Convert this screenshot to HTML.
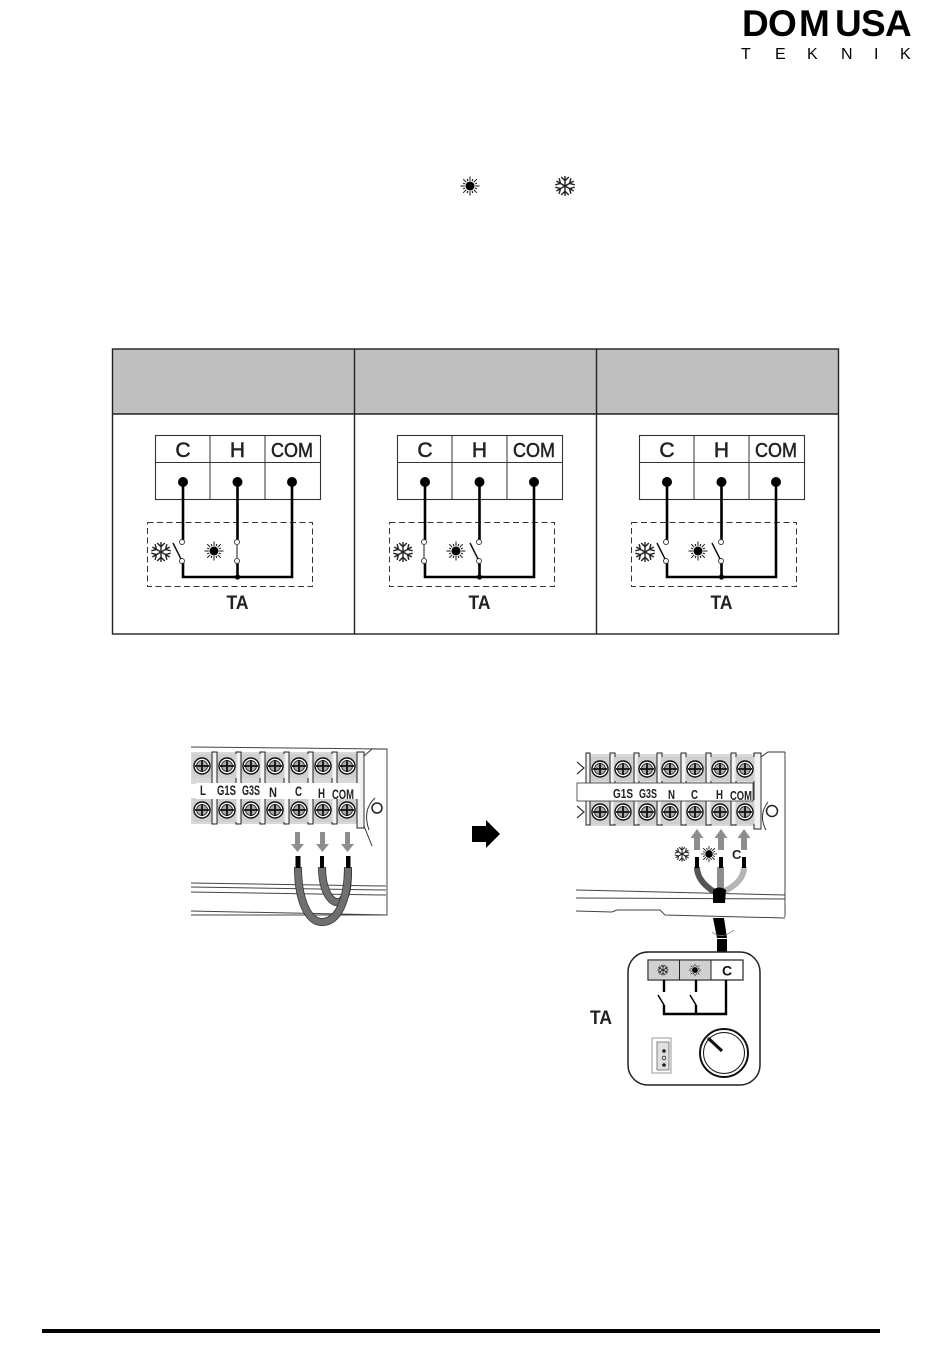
<!DOCTYPE html>
<html><head><meta charset="utf-8"><style>
html,body{margin:0;padding:0;background:#fff}
svg{display:block}
text{font-family:"Liberation Sans",sans-serif}
</style></head><body>
<svg width="950" height="1370" viewBox="0 0 950 1370" xmlns="http://www.w3.org/2000/svg">
<defs>
<g id="sun">
<g stroke="#111" stroke-width="1"><line x1="-9.500" y1="0" x2="9.500" y2="0"/><line x1="0" y1="-9.500" x2="0" y2="9.500"/><line x1="-6.800" y1="-6.800" x2="6.800" y2="6.800"/><line x1="-6.800" y1="6.800" x2="6.800" y2="-6.800"/><line x1="-7" y1="-2.900" x2="7" y2="2.900"/><line x1="-7" y1="2.900" x2="7" y2="-2.900"/><line x1="-2.900" y1="-7" x2="2.900" y2="7"/><line x1="2.900" y1="-7" x2="-2.900" y2="7"/></g>
<circle r="5.300" fill="#fff"/><circle r="4.500" fill="#000"/>
</g>
<g id="arm"><path d="M0 0V-10M-3.800 -9L0 -5.200L3.800 -9"/></g>
<g id="snow" fill="none" stroke="#222" stroke-width="1.400">
<use href="#arm"/><use href="#arm" transform="rotate(60)"/><use href="#arm" transform="rotate(120)"/><use href="#arm" transform="rotate(180)"/><use href="#arm" transform="rotate(240)"/><use href="#arm" transform="rotate(300)"/>
</g>
<g id="term">
<rect x="0.500" y="0.500" width="165" height="64" fill="#fff" stroke="#333" stroke-width="1.100"/>
<line x1="0" y1="27.500" x2="165" y2="27.500" stroke="#333" stroke-width="1"/>
<line x1="55" y1="0" x2="55" y2="64" stroke="#333" stroke-width="1"/>
<line x1="110" y1="0" x2="110" y2="64" stroke="#333" stroke-width="1"/>
<g fill="#222" stroke="#222" stroke-width="0.500">
<text x="28" y="22" text-anchor="middle" font-size="21">C</text>
<text x="82.500" y="22" text-anchor="middle" font-size="21">H</text>
<text x="116" y="22" font-size="20" textLength="42" lengthAdjust="spacingAndGlyphs">COM</text>
</g>
<circle cx="28" cy="47" r="5" fill="#000"/><circle cx="82.500" cy="47" r="5" fill="#000"/><circle cx="137" cy="47" r="5" fill="#000"/>
<rect x="-7.500" y="87.500" width="165" height="64" fill="none" stroke="#333" stroke-width="1" stroke-dasharray="6 3.500"/>
<path d="M137 47V142H28V125" fill="none" stroke="#000" stroke-width="2.600"/>
<path d="M28 47V107M82.500 47V107M82.500 125V142" fill="none" stroke="#000" stroke-width="2.600"/>
<circle cx="82.500" cy="142" r="2.600" fill="#000"/>
<text x="82.500" y="174" text-anchor="middle" font-size="19" font-weight="bold" fill="#222" textLength="22" lengthAdjust="spacingAndGlyphs">TA</text>
</g>
<g id="screw">
<rect x="-9.500" y="-12" width="19" height="24" fill="#cfcfcf"/>
<circle r="8" fill="#fff" stroke="#111" stroke-width="1.400"/>
<circle r="5.500" fill="#aaa" stroke="#111" stroke-width="0.800"/>
<path d="M-7 0H7M0 -6V6" stroke="#111" stroke-width="1.800"/>
</g>
</defs>

<!-- Logo -->
<text x="742 768 799 835 861 885" y="36" font-size="37" font-weight="bold" fill="#000">DOMUSA</text>
<text x="741 775 807 841 874 900" y="59" font-size="16" fill="#000">TEKNIK</text>

<!-- Inline icons -->
<use href="#sun" x="470" y="186"/>
<use href="#snow" x="565" y="186"/>

<!-- Table -->
<rect x="112.500" y="349" width="726" height="65" fill="#bfbfbf"/>
<rect x="112.500" y="349" width="726" height="285" fill="none" stroke="#222" stroke-width="1.400"/>
<line x1="112" y1="414" x2="838" y2="414" stroke="#222" stroke-width="1.400"/>
<line x1="354.500" y1="349" x2="354.500" y2="634" stroke="#222" stroke-width="1.400"/>
<line x1="596.500" y1="349" x2="596.500" y2="634" stroke="#222" stroke-width="1.400"/>

<use href="#term" x="155" y="435"/>
<use href="#term" x="397" y="435"/>
<use href="#term" x="639" y="435"/>

<!-- Switches -->
<g fill="#fff" stroke="#333" stroke-width="0.900">
<g id="sw1"><circle cx="182" cy="542" r="2.500"/><circle cx="182" cy="561" r="2.500"/><circle cx="237" cy="542" r="2.500"/><circle cx="237" cy="561" r="2.500"/></g>
<use href="#sw1" x="242"/><use href="#sw1" x="484"/>
</g>
<g stroke="#111" stroke-width="1.500" fill="none">
<line x1="173" y1="543" x2="181" y2="559"/>
<line x1="237" y1="544" x2="237" y2="559" stroke="#666"/>
<line x1="424" y1="544" x2="424" y2="559" stroke="#666"/>
<line x1="470" y1="543" x2="478" y2="559"/>
<line x1="657" y1="543" x2="665" y2="559"/>
<line x1="712" y1="543" x2="720" y2="559"/>
</g>
<use href="#snow" x="161" y="552"/><use href="#sun" x="214" y="551"/>
<use href="#snow" x="403" y="552"/><use href="#sun" x="456" y="551"/>
<use href="#snow" x="645" y="552"/><use href="#sun" x="698" y="551"/>

<!-- Left photo: terminal block -->
<g>
<path d="M191 747L387 749V915H191" fill="none" stroke="#444" stroke-width="1"/>
<rect x="191" y="752" width="172" height="72" fill="#d8d8d8"/>
<rect x="191" y="784" width="172" height="14" fill="#fff"/>
<g stroke="#222" stroke-width="1" fill="#f2f2f2">
<rect x="212" y="752" width="5" height="72"/><rect x="236" y="752" width="5" height="72"/><rect x="260" y="752" width="5" height="72"/><rect x="284" y="752" width="5" height="72"/><rect x="308" y="752" width="5" height="72"/><rect x="332" y="752" width="5" height="72"/><rect x="357" y="752" width="7" height="76"/>
</g>
<use href="#screw" x="202" y="766"/><use href="#screw" x="227" y="766"/><use href="#screw" x="251" y="766"/><use href="#screw" x="275" y="766"/><use href="#screw" x="299" y="766"/><use href="#screw" x="323" y="766"/><use href="#screw" x="347" y="766"/>
<use href="#screw" x="202" y="810"/><use href="#screw" x="227" y="810"/><use href="#screw" x="251" y="810"/><use href="#screw" x="275" y="810"/><use href="#screw" x="299" y="810"/><use href="#screw" x="323" y="810"/><use href="#screw" x="347" y="810"/>
<rect x="196" y="783" width="164" height="16" fill="#fff"/>
<g font-size="14" font-weight="bold" fill="#222">
<text x="200" y="795" textLength="6" lengthAdjust="spacingAndGlyphs">L</text>
<text x="217" y="795" textLength="19" lengthAdjust="spacingAndGlyphs">G1S</text>
<text x="242" y="795" textLength="18" lengthAdjust="spacingAndGlyphs">G3S</text>
<text x="269" y="797" textLength="8" lengthAdjust="spacingAndGlyphs">N</text>
<text x="295" y="796" textLength="7" lengthAdjust="spacingAndGlyphs">C</text>
<text x="318" y="798" textLength="7" lengthAdjust="spacingAndGlyphs">H</text>
<text x="332" y="799" textLength="22" lengthAdjust="spacingAndGlyphs">COM</text>
</g>
<path d="M364 756L372 749H386M364 756V826M364 826L372 846" fill="none" stroke="#333" stroke-width="1"/>
<path d="M369 830Q362 810 375 798" fill="none" stroke="#333" stroke-width="1"/>
<circle cx="377" cy="808" r="5" fill="none" stroke="#222" stroke-width="1.500"/>
<g stroke="#444" stroke-width="1"><line x1="191" y1="883" x2="386" y2="886"/><line x1="191" y1="887" x2="386" y2="890"/><line x1="191" y1="892" x2="386" y2="895"/><line x1="191" y1="911" x2="386" y2="915"/></g>
<g fill="#8d8d8d"><path d="M295 832H300V844H304L297.500 852L291 844H295Z"/><path d="M320 832H325V844H329L322.500 852L316 844H320Z"/><path d="M345 832H350V844H354L347.500 852L341 844H345Z"/></g>
<path d="M322 867C322 892 332 904 339 902C348 900 348 880 348 867" fill="none" stroke="#333" stroke-width="8"/>
<path d="M322 867C322 892 332 904 339 902C348 900 348 880 348 867" fill="none" stroke="#6f6f6f" stroke-width="6.500"/>
<path d="M298 867C298 900 308 922 322 922C338 922 348 900 348 867" fill="none" stroke="#333" stroke-width="8"/>
<path d="M298 867C298 900 308 922 322 922C338 922 348 900 348 867" fill="none" stroke="#6f6f6f" stroke-width="6.500"/>
<rect x="295.500" y="856" width="5" height="12" fill="#000"/><rect x="320" y="856" width="4" height="12" fill="#000"/><rect x="346" y="856" width="4.500" height="12" fill="#000"/>
</g>

<!-- Arrow -->
<path d="M472 826H486V820L500 834L486 848V842H472Z" fill="#000"/>

<!-- Right photo -->
<g>
<path d="M785 752V917" fill="none" stroke="#444" stroke-width="1"/>
<rect x="589" y="754" width="167" height="72" fill="#d8d8d8"/>
<g stroke="#222" stroke-width="1" fill="#f2f2f2">
<rect x="586" y="753" width="4" height="72"/><rect x="610" y="753" width="5" height="72"/><rect x="634" y="753" width="5" height="72"/><rect x="657" y="753" width="5" height="72"/><rect x="681" y="753" width="5" height="72"/><rect x="706" y="753" width="5" height="72"/><rect x="731" y="753" width="5" height="72"/><rect x="754" y="753" width="7" height="76"/>
</g>
<path d="M577 762L584 768L577 774M577 806L584 812L577 818" fill="none" stroke="#333" stroke-width="1.200"/>
<use href="#screw" x="600" y="769"/><use href="#screw" x="623" y="769"/><use href="#screw" x="647" y="769"/><use href="#screw" x="670" y="769"/><use href="#screw" x="695" y="769"/><use href="#screw" x="720" y="769"/><use href="#screw" x="745" y="769"/>
<use href="#screw" x="600" y="812"/><use href="#screw" x="623" y="812"/><use href="#screw" x="647" y="812"/><use href="#screw" x="670" y="812"/><use href="#screw" x="695" y="812"/><use href="#screw" x="720" y="812"/><use href="#screw" x="745" y="812"/>
<rect x="577" y="783" width="176" height="18" fill="#fff" stroke="#333" stroke-width="0.800"/>
<g font-size="13" font-weight="bold" fill="#222">
<text x="613" y="798" textLength="20" lengthAdjust="spacingAndGlyphs">G1S</text>
<text x="639" y="798" textLength="18" lengthAdjust="spacingAndGlyphs">G3S</text>
<text x="668" y="799" textLength="7" lengthAdjust="spacingAndGlyphs">N</text>
<text x="691" y="799" textLength="7" lengthAdjust="spacingAndGlyphs">C</text>
<text x="716" y="799" textLength="7" lengthAdjust="spacingAndGlyphs">H</text>
<text x="730" y="800" textLength="22" lengthAdjust="spacingAndGlyphs">COM</text>
</g>
<path d="M761 757L768 752H785M761 757V829" fill="none" stroke="#333" stroke-width="1"/>
<circle cx="772" cy="811" r="5.500" fill="none" stroke="#222" stroke-width="1.500"/>
<path d="M766 830Q758 815 768 802" fill="none" stroke="#333" stroke-width="1"/>
<g stroke="#444" stroke-width="1" fill="none"><line x1="576" y1="890" x2="785" y2="895"/><line x1="576" y1="898" x2="785" y2="899"/><line x1="576" y1="911" x2="612" y2="912"/><path d="M612 912L617 910H660L665 915L785 918"/></g>
<g fill="#8d8d8d"><path d="M694 850V838H690.500L697 829L703.500 838H700V850Z"/><path d="M718 850V838H714.500L721 829L727.500 838H724V850Z"/><path d="M741 850V838H737.500L744 829L750.500 838H747V850Z"/></g>
<use href="#snow" transform="translate(682 854) scale(.75)"/>
<use href="#sun" transform="translate(709 854) scale(.85)"/>
<text x="732" y="859" font-size="13" font-weight="bold" fill="#222">C</text>
<path d="M697 867C697 880 708 888 716 893" fill="none" stroke="#555" stroke-width="6"/>
<path d="M744 867C744 880 732 888 722 892" fill="none" stroke="#b5b5b5" stroke-width="6"/>
<rect x="717" y="867" width="7" height="24" fill="#8e8e8e"/>
<rect x="695" y="857" width="4" height="11" fill="#000"/><rect x="719" y="857" width="4" height="11" fill="#000"/><rect x="742" y="857" width="4" height="11" fill="#000"/>
<path d="M713 890Q719 885 726 890L725 903H713Z" fill="#000"/>
<path d="M713 918H724L727 938H717Z" fill="#000"/>
<rect x="717" y="939" width="10" height="13" fill="#000"/>
<path d="M712 932Q722 940 734 930" fill="none" stroke="#777" stroke-width="0.800"/>
</g>

<!-- TA thermostat -->
<rect x="628" y="952" width="132" height="133" rx="20" fill="#fff" stroke="#222" stroke-width="1.500"/>
<rect x="648" y="960" width="95" height="20" fill="#fff" stroke="#222" stroke-width="1.200"/>
<rect x="648" y="960" width="63" height="20" fill="#d0d0d0" stroke="#222" stroke-width="1"/>
<line x1="679.500" y1="960" x2="679.500" y2="980" stroke="#222"/>
<line x1="711" y1="960" x2="711" y2="980" stroke="#222"/>
<use href="#snow" transform="translate(663 970) scale(.55)"/>
<use href="#sun" transform="translate(695 970) scale(.65)"/>
<text x="727" y="975.500" font-size="14" font-weight="bold" fill="#111" text-anchor="middle">C</text>
<path d="M664 980V992M696 980V992M726 980V1014H664V1005M696 1005V1014" fill="none" stroke="#000" stroke-width="2.400"/>
<path d="M658 995L664 1005M690 995L696 1005" stroke="#000" stroke-width="1.500"/>
<text x="590" y="1024" font-size="19" font-weight="bold" fill="#222" textLength="22" lengthAdjust="spacingAndGlyphs">TA</text>
<rect x="652" y="1038" width="19" height="35" fill="#fff" stroke="#999" stroke-width="1"/>
<path d="M657 1042H669V1070H657Z" fill="#e0e0e0" stroke="#666" stroke-width="0.800"/>
<circle cx="664" cy="1051" r="1.800" fill="#222"/><circle cx="664" cy="1058" r="1.800" fill="none" stroke="#222" stroke-width="0.800"/><circle cx="664" cy="1065" r="1.800" fill="#222"/>
<circle cx="724" cy="1053" r="24" fill="#fff" stroke="#111" stroke-width="2"/>
<circle cx="724" cy="1053" r="20.500" fill="none" stroke="#111" stroke-width="1"/>
<line x1="708" y1="1038" x2="722" y2="1051" stroke="#111" stroke-width="3.200"/>

<!-- Footer rule -->
<rect x="42" y="1329" width="838" height="4" fill="#000"/>
</svg>
</body></html>
